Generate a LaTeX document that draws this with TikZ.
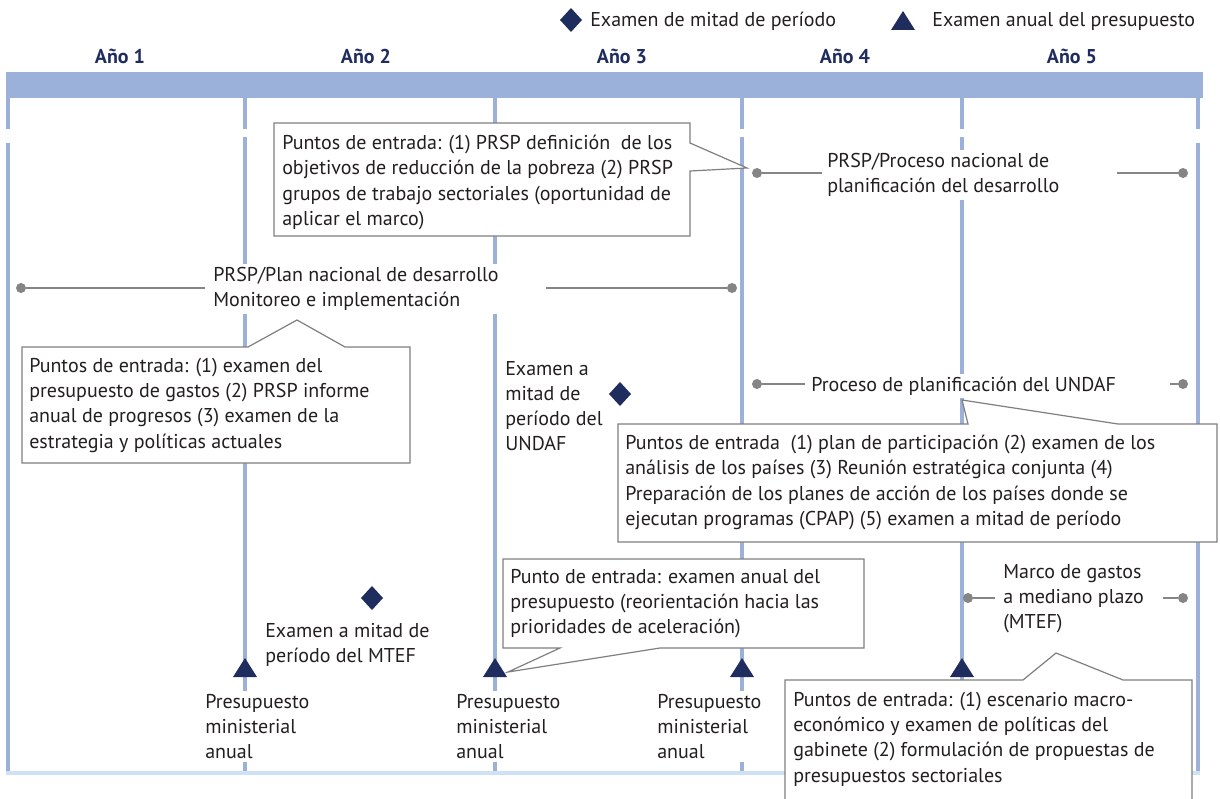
\documentclass[tikz,border=0pt]{standalone}
\usepackage{fontspec}
\setmainfont{PT Sans}
\definecolor{barc}{HTML}{9BB1DA}
\definecolor{navy}{HTML}{1F2D5E}
\definecolor{connc}{HTML}{858585}
\definecolor{framec}{HTML}{7F7F7F}
\definecolor{botc}{HTML}{CFE2F5}
\definecolor{txt}{HTML}{231F20}
\begin{document}
\begin{tikzpicture}[x=0.75pt,y=-0.75pt,
  font=\fontsize{15}{18.9}\selectfont,
  vline/.style={draw=barc, line width=3pt},
  lbl/.style={anchor=north west, align=left, fill=white, inner xsep=3pt, inner ysep=2.25pt, text=txt},
  lbls/.style={anchor=west, fill=white, inner xsep=3pt, inner ysep=2.25pt, text=txt},
  yearlbl/.style={font=\fontsize{15}{16}\selectfont\bfseries, text=navy, inner sep=0pt},
  callout/.style={draw=framec, line width=0.9pt, fill=white, line join=miter},
  connl/.style={draw=connc, line width=1.1pt},
  dotn/.style={circle, fill=connc, inner sep=0pt, minimum size=7.5pt},
  markf/.style={fill=navy}]
\useasboundingbox (0,0) rectangle (1220,799);

% top bar
\fill[barc] (6,72) rectangle (1203,98);

% vertical lines
\foreach \x/\r in {8/143,245/137,495/137,742/137,962/137,1198/143}{
  \draw[vline] (\x,97) -- (\x,129);
  \draw[vline] (\x,\r) -- (\x,772);
}
% bottom line
\draw[draw=botc, line width=3pt] (6,773) -- (1200,773);

% legend
\fill[markf] (571,8) -- (582,20) -- (571,32) -- (560,20) -- cycle;
\node[lbls, fill=none] (leg1) at (586,21) {Examen de mitad de período};
\fill[markf] (903,11) -- (915,30) -- (891,30) -- cycle;
\node[lbls, fill=none] (leg2) at (928,22) {Examen anual del presupuesto};

% years
\node[yearlbl] (y1) at (120,56) {Año 1};
\node[yearlbl] (y2) at (366,56) {Año 2};
\node[yearlbl] (y3) at (622,56) {Año 3};
\node[yearlbl] (y4) at (845,56) {Año 4};
\node[yearlbl] (y5) at (1072,56) {Año 5};

% PRSP / Proceso nacional
\node[lbl] (proc) at (823,150) {PRSP/Proceso nacional de\\planificación del desarrollo};
\node[dotn] (d1a) at (757,173) {};
\coordinate (c1a) at (822,173);
\draw[connl] (d1a) -- (c1a);
\coordinate (c1b) at (1117,173);
\node[dotn] (d1b) at (1183,173) {};
\draw[connl] (c1b) -- (d1b);

% PRSP / Plan nacional
\node[lbl] (plan) at (209,264) {PRSP/Plan nacional de desarrollo\\Monitoreo e implementación};
\node[dotn] (d2a) at (21,288) {};
\coordinate (c2a) at (205,288);
\draw[connl] (d2a) -- (c2a);
\coordinate (c2b) at (546,288);
\node[dotn] (d2b) at (732,288) {};
\draw[connl] (c2b) -- (d2b);

% UNDAF process
\node[lbls] (undaf) at (807,386) {Proceso de planificación del UNDAF};
\node[dotn] (d3a) at (757,384) {};
\coordinate (c3a) at (805,384);
\draw[connl] (d3a) -- (c3a);
\coordinate (c3b) at (1170,384);
\node[dotn] (d3b) at (1183,384) {};
\draw[connl] (c3b) -- (d3b);

% MTEF
\node[lbl] (mtef) at (999,561) {Marco de gastos\\a mediano plazo\\(MTEF)};
\node[dotn] (d4a) at (968,598) {};
\coordinate (c4a) at (995,598);
\draw[connl] (d4a) -- (c4a);
\coordinate (c4b) at (1163,598);
\node[dotn] (d4b) at (1183,598) {};
\draw[connl] (c4b) -- (d4b);

% callout A
\draw[callout] (274,123) -- (690,123) -- (690,143) -- (747,168) -- (690,171) -- (690,236) -- (274,236) -- cycle;
\node[lbl, fill=none] (ta) at (278,132) {Puntos de entrada: (1) PRSP definición\ \ de los\\objetivos de reducción de la pobreza (2) PRSP\\grupos de trabajo sectoriales (oportunidad de\\aplicar el marco)};

% callout B
\draw[callout] (22,347) -- (248,347) -- (297,320) -- (345,347) -- (410,347) -- (410,463) -- (22,463) -- cycle;
\node[lbl, fill=none] (tb) at (25,355) {Puntos de entrada: (1) examen del\\presupuesto de gastos (2) PRSP informe\\anual de progresos (3) examen de la\\estrategia y políticas actuales};

% UNDAF mid-term
\node[lbl] (undafmt) at (501,358) {Examen a\\mitad de\\período del\\UNDAF};
\fill[markf] (620,382) -- (631,394) -- (620,406) -- (609,394) -- cycle;

% callout C
\draw[callout] (618,424) -- (968,424) -- (962,400) -- (1118,424) -- (1217,424) -- (1217,542) -- (618,542) -- cycle;
\node[lbl, fill=none] (tc) at (621,432) {Puntos de entrada\ \ (1) plan de participación (2) examen de los\\análisis de los países (3) Reunión estratégica conjunta (4)\\Preparación de los planes de acción de los países donde se\\ejecutan programas (CPAP) (5) examen a mitad de período};

% callout D
\draw[callout] (503,559) -- (864,559) -- (864,648) -- (660,648) -- (508,672) -- (560,648) -- (503,648) -- cycle;
\node[lbl, fill=none] (td) at (506,566) {Punto de entrada: examen anual del\\presupuesto (reorientación hacia las\\prioridades de aceleración)};

% MTEF mid-term
\fill[markf] (372,586) -- (383,598) -- (372,610) -- (361,598) -- cycle;
\node[lbl, fill=none] (mtefmt) at (261,620) {Examen a mitad de\\período del MTEF};

% budget triangles
\foreach \x in {245,495,742,962}{
  \fill[markf] (\x,658) -- (\x+12,677) -- (\x-12,677) -- cycle;
}
\node[lbl] (p1) at (201,691) {Presupuesto\\ministerial\\anual};
\node[lbl] (p2) at (452,691) {Presupuesto\\ministerial\\anual};
\node[lbl] (p3) at (653,691) {Presupuesto\\ministerial\\anual};

% callout E
\draw[callout] (785,680) -- (1023,680) -- (1056,653) -- (1123,680) -- (1192,680) -- (1192,810) -- (785,810) -- cycle;
\node[lbl, fill=none] (te) at (789,689) {Puntos de entrada: (1) escenario macro-\\económico y examen de políticas del\\gabinete (2) formulación de propuestas de\\presupuestos sectoriales};

\end{tikzpicture}
\end{document}
